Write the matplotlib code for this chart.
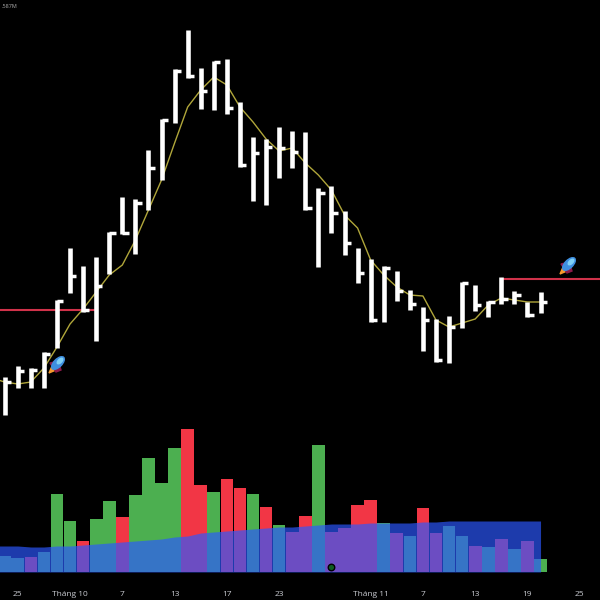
import matplotlib
matplotlib.use("Agg")
import matplotlib.pyplot as plt
from matplotlib.patches import Ellipse, Polygon
import numpy as np

# ── Price bars (high / low / close, no price scale visible) ───────────────────
HIGH = [22.3, 23.4, 23.2, 24.8, 30.0, 35.2, 33.4, 34.3, 36.8, 40.3, 40.1, 45.0, 48.1, 53.1,
        57.0, 53.2, 53.9, 54.1, 49.8, 46.3, 46.1, 47.3, 46.9, 46.8, 41.2, 41.4, 38.9, 35.2,
        34.1, 33.4, 32.9, 31.0, 29.3, 28.1, 28.4, 31.8, 31.5, 29.9, 32.3, 30.9, 29.8, 30.8]
LOW = [18.5, 21.2, 21.2, 21.2, 25.2, 30.7, 28.8, 25.9, 32.6, 36.6, 34.6, 39.0, 42.0, 47.7,
       52.2, 49.1, 49.0, 48.6, 43.3, 39.9, 39.5, 42.2, 43.2, 39.0, 33.3, 36.7, 34.5, 31.7,
       27.8, 27.8, 29.9, 29.0, 24.9, 23.8, 23.7, 27.2, 28.9, 28.3, 29.6, 29.6, 28.3, 28.7]
CLOSE = [21.8, 22.9, 23.0, 24.6, 29.9, 32.4, 29.0, 31.4, 36.7, 36.7, 39.7, 43.2, 48.0, 52.9,
         52.4, 50.9, 53.8, 49.2, 43.5, 44.7, 45.3, 45.2, 44.8, 39.2, 40.7, 38.7, 35.7, 32.7,
         28.0, 33.2, 30.9, 29.6, 28.0, 24.0, 27.3, 31.7, 29.5, 29.8, 30.1, 30.5, 28.5, 29.8]
# moving average, starts one bar left of the first price bar
MA = [22.2, 21.8, 21.6, 21.8, 23.2, 25.3, 27.6, 29.1, 30.8, 32.5, 33.5, 36.0, 39.0, 42.0, 45.7,
      49.3, 51.0, 52.3, 51.5, 49.3, 47.8, 46.1, 44.9, 45.2, 43.7, 42.5, 41.0, 38.5, 37.2, 34.0,
      32.5, 31.3, 30.5, 30.4, 28.0, 27.3, 27.7, 28.1, 29.5, 30.2, 30.0, 29.8, 29.8]
LEVEL_LEFT = 29.0
LEVEL_RIGHT = 32.1

# ── Volume ────────────────────────────────────────────────────────────────────
VOLUME = [16, 14, 15, 20, 78, 51, 31, 53, 71, 55, 77, 114, 89, 124, 143, 87, 80, 93, 84, 78, 65,
          47, 40, 56, 127, 40, 44, 67, 72, 49, 39, 36, 64, 39, 46, 36, 26, 25, 33, 23, 31, 13]
UP = [1, 1, 0, 1, 1, 1, 0, 1, 1, 0, 1, 1, 1, 1, 0, 0, 1, 0, 0, 1, 0, 1, 0, 0, 1, 0, 0, 0, 0, 1,
      0, 1, 0, 0, 1, 1, 0, 1, 0, 1, 0, 1]
VOL_MA = [26, 26, 26, 25, 25, 26, 26, 27, 28, 29, 30, 31, 32, 33, 35, 36, 39, 40, 41, 42, 43, 44,
          45, 45, 46, 47, 48, 48, 48, 49, 49, 49, 49, 50, 50, 51, 51, 51, 51, 51, 51, 51, 51]

TICK_POS = [1, 5, 9, 13, 17, 21, 28, 32, 36, 40, 44]
TICK_LABELS = ["25", "Tháng 10", "7", "13", "17", "23", "Tháng 11", "7", "13", "19", "25"]

VOL_COLORS = ["#f23645", "#4caf50"]

plt.rcParams["font.family"] = ["Open Sans", "DejaVu Sans"]

fig = plt.figure(figsize=(6, 6), dpi=100, facecolor="black")
x = np.arange(len(HIGH))
xlim = (-0.36, 45.55)

# ── Price pane ────────────────────────────────────────────────────────────────
ax = fig.add_axes([0, 0, 1, 1], facecolor="black")
ax.set_xlim(*xlim)
ax.set_ylim(0, 60)
ax.axis("off")

ax.hlines(LEVEL_LEFT, xlim[0], 6.9, color="#d0324a", lw=1.5, zorder=1)
ax.hlines(LEVEL_RIGHT, 38, xlim[1], color="#d0324a", lw=1.5, zorder=1)
ax.plot(np.arange(-1, len(HIGH)), MA, color="#b0a63a", lw=1.0, zorder=2)
ax.vlines(x, LOW, HIGH, color="white", lw=3.3, capstyle="butt", zorder=3)
ax.hlines(CLOSE, x, x + 0.48, color="white", lw=2.5, capstyle="butt", zorder=3)
ax.text(0.002, 0.993, ".587M", transform=ax.transAxes, ha="left", va="top",
        fontsize=4, color="#b0b0b0")

# ── Volume pane ───────────────────────────────────────────────────────────────
vax = fig.add_axes([0, 28 / 600, 1, 152 / 600], facecolor="none")
vax.set_xlim(*xlim)
vax.set_ylim(0, 152)
vax.bar(x, VOLUME, width=0.97, color=[VOL_COLORS[u] for u in UP], zorder=2)
vax.fill_between(np.arange(-1, len(HIGH)), 0, VOL_MA, color="#2c58ff", alpha=0.68, lw=0, zorder=3)
vax.hlines(0, 41.5, xlim[1], color="#222222", lw=0.6, zorder=1)
vax.scatter([25], [5], s=22, color="#0d5c22", edgecolor="black", lw=1.0, zorder=4)
for side in vax.spines.values():
    side.set_visible(False)
vax.set_yticks([])
vax.set_xticks(TICK_POS)
vax.set_xticklabels(TICK_LABELS, fontsize=6, color="#c8cad0")
vax.tick_params(axis="x", length=0, pad=13.5)

# ── Rocket markers, drawn in pixels ───────────────────────────────────────────
pax = fig.add_axes([0, 0, 1, 1], facecolor="none")
pax.set_xlim(0, 600)
pax.set_ylim(600, 0)
pax.axis("off")


def rocket(cx, cy):
    pax.add_patch(Polygon([(cx - 8, cy + 9), (cx - 1, cy + 6), (cx - 5, cy + 2)],
                          color="#f59a2e", zorder=5))
    pax.add_patch(Polygon([(cx - 7, cy - 1), (cx + 1, cy - 3), (cx + 4, cy + 6), (cx - 1, cy + 8)],
                          color="#8c1a4a", zorder=5))
    pax.add_patch(Ellipse((cx + 1, cy - 1), 16, 8, angle=-45, color="#3f8fe0", zorder=6))
    pax.add_patch(Ellipse((cx + 3, cy - 3), 7, 3.5, angle=-45, color="#7fd0f5", zorder=7))


rocket(57, 364)
rocket(568, 265)

fig.savefig("out.png", dpi=100, facecolor="black")
